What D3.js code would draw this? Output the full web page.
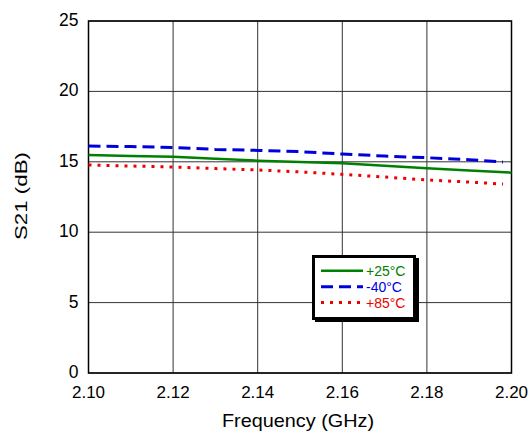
<!DOCTYPE html>
<html>
<head>
<meta charset="utf-8">
<script src="https://cdn.jsdelivr.net/npm/d3@7"></script>
<style>
body { margin: 0; background: #fff; }
text { font-family: "Liberation Sans", Arial, sans-serif; }
</style>
</head>
<body>
<div id="chart"></div>
<script>
// data
let freq = [2.10, 2.11, 2.12, 2.13, 2.14, 2.15, 2.16, 2.17, 2.18, 2.19, 2.20];
let freqCold = [2.10, 2.11, 2.12, 2.13, 2.14, 2.15, 2.16, 2.17, 2.18, 2.19, 2.198];
let s21Room = [15.48, 15.42, 15.36, 15.22, 15.08, 14.99, 14.89, 14.72, 14.54, 14.39, 14.23];
let s21Cold = [16.12, 16.08, 16.02, 15.88, 15.81, 15.72, 15.55, 15.41, 15.29, 15.15, 14.98];
let s21Hot = [14.77, 14.70, 14.63, 14.52, 14.42, 14.28, 14.11, 13.92, 13.71, 13.56, 13.42];
let xTicks = [2.10, 2.12, 2.14, 2.16, 2.18, 2.20];
let yTicks = [0, 5, 10, 15, 20, 25];

let series = [
    {name: "+25°C", x: freq, y: s21Room, color: "#008000", dash: null, w: 2.5},
    {name: "-40°C", x: freqCold, y: s21Cold, color: "#0000dd", dash: "12,6", w: 3},
    {name: "+85°C", x: freqCold, y: s21Hot, color: "#ee0000", dash: "3,6", w: 3}
];

let margin = {left: 88.5, right: 20.5, top: 21, bottom: 60};
let width = 532 - margin.left - margin.right;
let height = 433 - margin.top - margin.bottom;

let svg = d3.select("#chart").append("svg")
    .attr("width", 532).attr("height", 433)
    .append("g")
    .attr("transform", "translate(" + margin.left + "," + margin.top + ")");

let x = d3.scaleLinear().domain([2.10, 2.20]).range([0, width]);
let y = d3.scaleLinear().domain([0, 25]).range([height, 0]);

// grid
svg.selectAll(".vgrid").data(xTicks).enter().append("line")
    .attr("x1", d => x(d)).attr("x2", d => x(d))
    .attr("y1", 0).attr("y2", height)
    .attr("stroke", "#333").attr("stroke-width", 1);
svg.selectAll(".hgrid").data(yTicks).enter().append("line")
    .attr("y1", d => y(d)).attr("y2", d => y(d))
    .attr("x1", 0).attr("x2", width)
    .attr("stroke", "#333").attr("stroke-width", 1);

// frame
svg.append("rect").attr("width", width).attr("height", height)
    .attr("fill", "none").attr("stroke", "#000").attr("stroke-width", 1.5);

// tick labels
svg.selectAll(".xl").data(xTicks).enter().append("text")
    .attr("x", d => x(d)).attr("y", height + 25)
    .attr("text-anchor", "middle").style("font-size", "17px")
    .text(d => d3.format(".2f")(d));
svg.selectAll(".yl").data(yTicks).enter().append("text")
    .attr("x", -10).attr("y", d => y(d) + 5)
    .attr("text-anchor", "end").style("font-size", "17.5px")
    .text(d => d);

svg.append("text").attr("x", 298 - margin.left).attr("y", 427 - margin.top)
    .attr("text-anchor", "middle").style("font-size", "19px")
    .attr("textLength", 152).attr("lengthAdjust", "spacingAndGlyphs")
    .text("Frequency (GHz)");
svg.append("text")
    .attr("transform", "translate(" + (27 - margin.left) + "," + (196 - margin.top) + ") rotate(-90)")
    .attr("text-anchor", "middle").style("font-size", "17px")
    .attr("textLength", 88).attr("lengthAdjust", "spacingAndGlyphs")
    .text("S21 (dB)");

// curves
let line = d3.line().x(d => x(d[0])).y(d => y(d[1]));
series.forEach(s => {
    svg.append("path")
        .attr("d", line(s.x.map((f, i) => [f, s.y[i]])))
        .attr("fill", "none")
        .attr("stroke", s.color)
        .attr("stroke-width", s.w)
        .attr("stroke-dasharray", s.dash);
});

// legend
let lg = svg.append("g").attr("transform", "translate(" + (312 - margin.left) + "," + (255 - margin.top) + ")");
lg.append("rect").attr("x", 3).attr("y", 3).attr("width", 104).attr("height", 64).attr("fill", "#000");
lg.append("rect").attr("x", 1.5).attr("y", 1.5).attr("width", 101).attr("height", 62)
    .attr("fill", "#fff").attr("stroke", "#000").attr("stroke-width", 3);
series.forEach((s, i) => {
    let ly = 15.8 + i * 15.9;
    lg.append("line").attr("x1", 9).attr("x2", 51).attr("y1", ly).attr("y2", ly)
        .attr("stroke", s.color).attr("stroke-width", s.w)
        .attr("stroke-dasharray", s.dash);
    lg.append("text").attr("x", 54).attr("y", ly + 5)
        .style("font-size", "14px").attr("fill", s.color).text(s.name);
});
</script>
</body>
</html>
